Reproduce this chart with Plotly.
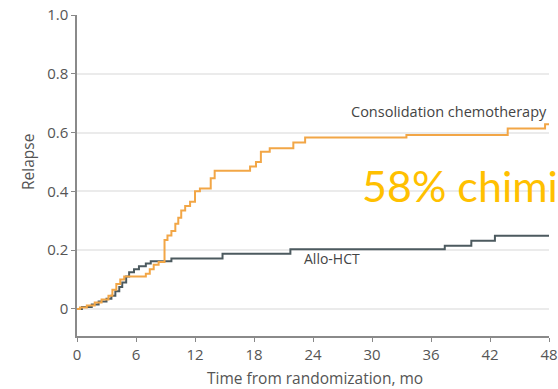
import plotly.graph_objects as go

# Cumulative incidence of relapse, step functions (months, proportion)
chemo_time = [0, 0.3, 1.0, 1.8, 2.5, 3.2, 3.6, 4.0, 4.4, 4.8, 7.0, 7.4, 7.8, 8.3,
              8.9, 9.2, 9.6, 10.0, 10.3, 10.6, 11.0, 11.5, 12.0, 12.5, 13.6, 14.0,
              17.6, 18.2, 18.7, 19.6, 22.0, 23.2, 33.5, 43.8, 47.6, 48.0]
chemo_relapse = [0, 0.005, 0.012, 0.022, 0.032, 0.045, 0.065, 0.085, 0.10, 0.11, 0.12,
                 0.135, 0.15, 0.16, 0.235, 0.25, 0.265, 0.29, 0.31, 0.335, 0.35, 0.365,
                 0.40, 0.41, 0.445, 0.47, 0.485, 0.50, 0.535, 0.547, 0.566, 0.583,
                 0.592, 0.614, 0.628, 0.628]

allo_time = [0, 0.5, 1.5, 2.2, 3.0, 3.5, 3.9, 4.3, 4.6, 5.0, 5.3, 5.8, 6.3, 7.0, 7.5,
             9.6, 14.8, 21.7, 37.4, 40.1, 42.5, 48.0]
allo_relapse = [0, 0.007, 0.015, 0.025, 0.035, 0.045, 0.06, 0.075, 0.09, 0.11, 0.125,
                0.135, 0.145, 0.155, 0.162, 0.172, 0.188, 0.203, 0.215, 0.232, 0.249,
                0.249]

x_ticks = [0, 6, 12, 18, 24, 30, 36, 42, 48]
y_ticks = [0, 0.2, 0.4, 0.6, 0.8, 1.0]
y_tick_text = ["0", "0.2", "0.4", "0.6", "0.8", "1.0"]

ORANGE = "#f2a646"
SLATE = "#4c5a5f"
TEXT = "#555555"
FONT = "Open Sans, Lato, sans-serif"

# plot area in pixels: x 77..549, y 15..336
PW, PH = 472, 321

fig = go.Figure()
fig.add_trace(go.Scatter(x=allo_time, y=allo_relapse, mode="lines",
                         line=dict(color=SLATE, width=2, shape="hv"),
                         showlegend=False, hoverinfo="skip"))
fig.add_trace(go.Scatter(x=chemo_time, y=chemo_relapse, mode="lines",
                         line=dict(color=ORANGE, width=2, shape="hv"),
                         showlegend=False, hoverinfo="skip"))

fig.add_annotation(x=37.8, y=0.672, text="Consolidation chemotherapy", showarrow=False,
                   font=dict(family=FONT, size=14.5, color="#444444"))
fig.add_annotation(x=25.9, y=0.172, text="Allo-HCT", showarrow=False,
                   font=dict(family=FONT, size=14, color="#444444"))
# axis titles placed as paper annotations
fig.add_annotation(xref="paper", yref="paper", x=(28 - 77) / PW, y=(336 - 162) / PH,
                   text="Relapse", textangle=-90, showarrow=False, xanchor="center",
                   yanchor="middle", font=dict(family=FONT, size=15.5, color=TEXT))
fig.add_annotation(xref="paper", yref="paper", x=(315 - 77) / PW, y=(336 - 377.5) / PH,
                   text="Time from randomization, mo", showarrow=False,
                   xanchor="center", yanchor="middle",
                   font=dict(family=FONT, size=15.5, color=TEXT))
fig.add_annotation(xref="paper", yref="paper", x=(360 - 77) / PW, y=(336 - 186) / PH,
                   text="58% chimi", showarrow=False, xanchor="left", yanchor="middle",
                   font=dict(family="Lato, sans-serif", size=43, color="#ffc000"))

fig.update_xaxes(range=[0, 48], tickvals=x_ticks, ticks="outside", ticklen=4,
                 tickcolor="#888888", showline=True, linecolor="#8a8a8a", linewidth=1.5,
                 showgrid=False, zeroline=False, automargin=False,
                 tickfont=dict(family=FONT, size=15, color=TEXT))
fig.update_yaxes(range=[-0.092, 1.0], tickvals=y_ticks, ticktext=y_tick_text,
                 ticks="outside", ticklen=4, tickcolor="#888888", showline=True,
                 linecolor="#8a8a8a", linewidth=1.5, showgrid=True,
                 gridcolor="#ebebeb", gridwidth=1.5, zeroline=False, automargin=False,
                 tickfont=dict(family=FONT, size=15, color=TEXT))

fig.update_layout(width=558, height=389, margin=dict(l=77, r=9, t=15, b=53),
                  plot_bgcolor="white", paper_bgcolor="white")

fig.write_html("out.html")
